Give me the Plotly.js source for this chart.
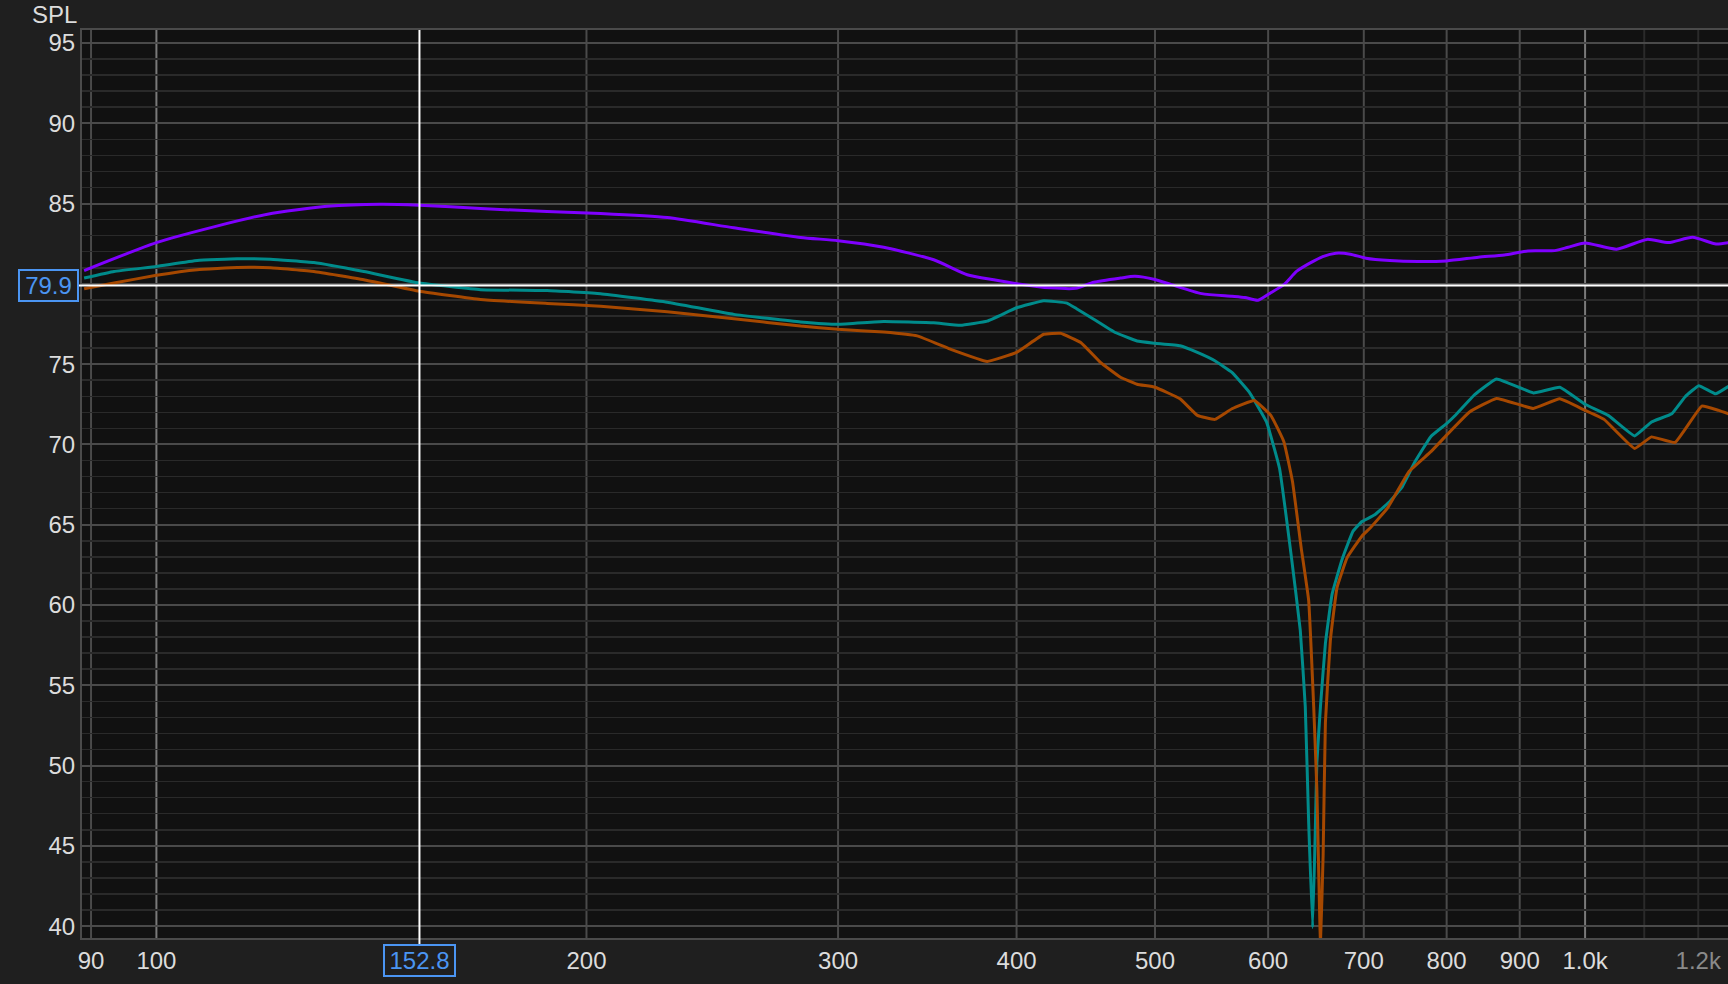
<!DOCTYPE html>
<html>
<head>
<meta charset="utf-8">
<script src="https://cdn.plot.ly/plotly-3.0.1.min.js"></script>
<style>
html,body{margin:0;padding:0;background:#1f1f1f;overflow:hidden;}
#chart{width:1728px;height:984px;}
</style>
</head>
<body>
<div id="chart"></div>
<script>
// ---- data (frequency in Hz, SPL in dB) ----
const freqPurple = [89.0,100,109.7,119.6,131.7,143.5,152.8,168.6,187.7,204.6,227.8,253.6,282.4,300,322.9,350,369.4,385.6,400,422.5,440,453,472.9,484,500,513.4,539,566,578,590.2,602.6,615.4,628.4,641.7,655.2,669.2,685,702.4,730,763.6,800,842,878,912,952,973,1000,1052,1105,1144,1189,1235,1260];
const splPurple  = [80.83,82.57,83.55,84.34,84.83,84.96,84.90,84.69,84.50,84.38,84.13,83.49,82.89,82.69,82.28,81.50,80.57,80.25,80.01,79.75,79.72,80.10,80.36,80.47,80.27,79.95,79.39,79.23,79.15,78.98,79.45,79.95,80.79,81.29,81.70,81.91,81.85,81.60,81.45,81.39,81.43,81.66,81.80,82.05,82.07,82.28,82.55,82.16,82.77,82.57,82.90,82.48,82.57];

const freqTeal = [89.0,93.4,100,106.8,113.9,120.2,128.9,139.7,152.8,168.6,187.7,204.6,227.8,253.6,282.4,300,322.9,350,365.4,381.5,400,417.9,433.9,440.6,453,469,485.7,500,520.6,535.3,550.6,566,582,598.4,611.1,623,631.9,637,640.5,644.6,647.4,649,652.8,658,665.2,676,688,698,712,729,744,760,780,800,811,837,867,920,960,1000,1038,1083,1113,1150,1175,1201,1234,1260];
const splTeal  = [80.36,80.77,81.08,81.45,81.56,81.54,81.33,80.77,80.05,79.64,79.58,79.39,78.86,78.10,77.63,77.48,77.66,77.58,77.42,77.68,78.51,78.95,78.80,78.45,77.80,76.97,76.44,76.30,76.14,75.73,75.21,74.49,73.26,71.40,68.52,62.95,58.42,53.68,46.47,39.90,46.0,50.17,53.68,57.60,60.69,62.85,64.60,65.20,65.60,66.40,67.30,68.90,70.50,71.30,71.80,73.10,74.08,73.21,73.56,72.50,71.81,70.53,71.40,71.91,72.97,73.66,73.15,73.62];

const freqOrange = [89.0,93.4,100,106.8,113.9,120.2,128.9,139.7,152.8,168.6,187.7,204.6,227.8,253.6,282.4,300,322.9,340.8,359.6,381.5,400,417.9,429.4,443.6,457.9,472.9,485.7,500,520.6,535.3,550.6,566,586.7,602.6,615.4,624,632.8,640.5,645.7,649,652.8,655.6,658,663.3,670.5,681.5,698,707.5,727.5,753,780,800,830,867,920,960,1000,1031,1083,1113,1156,1207,1240,1260];
const splOrange  = [79.70,80.05,80.53,80.88,81.02,81.00,80.77,80.26,79.54,79.02,78.78,78.61,78.26,77.83,77.37,77.17,77.00,76.76,75.93,75.17,75.73,76.86,76.92,76.35,75.11,74.18,73.75,73.56,72.84,71.81,71.56,72.22,72.74,71.81,70.17,67.69,63.57,60.28,53.68,48.53,39.0,44.43,52.65,57.80,61.10,62.95,64.30,64.81,66.05,68.32,69.55,70.58,72.02,72.86,72.24,72.84,72.12,71.56,69.75,70.47,70.12,72.39,72.12,71.91];

// cursor readout
const cursorFreq = 152.8;
const cursorSPL = 79.9;

// axes
const xRange = [88.7, 1259];
const yRange = [39.26, 95.81];
const yTickVals = [40,45,50,55,60,65,70,75,80,85,90,95];
const yTickText = ['40','45','50','55','60','65','70','75','','85','90','95'];
const xLabelVals = [90,100,200,300,400,500,600,700,800,900,1000,1200];
const xLabelText = ['90','100','200','300','400','500','600','700','800','900','1.0k','<span style="color:#8a8a8a">1.2k</span>'];
const xGridMid = [90,200,300,400,500,600,700,800,900];
const xGridDecade = [100,1000];
const xGridMinor = [1100,1200];

// ---- styles ----
const FONT = 'Liberation Sans, Arial, Helvetica, sans-serif';
const BLUE = '#4b95f2';

const traces = [
  {x: freqPurple, y: splPurple, type: 'scatter', mode: 'lines',
   line: {color: '#7f00ff', width: 3, shape: 'spline', smoothing: 0.6}, hoverinfo: 'skip'},
  {x: freqTeal, y: splTeal, type: 'scatter', mode: 'lines',
   line: {color: '#008b8b', width: 3, shape: 'spline', smoothing: 0.3}, hoverinfo: 'skip'},
  {x: freqOrange, y: splOrange, type: 'scatter', mode: 'lines',
   line: {color: '#a64800', width: 3, shape: 'spline', smoothing: 0.3}, hoverinfo: 'skip'}
];

function vlines(vals, color, width) {
  return vals.map(v => ({type: 'line', xref: 'x', yref: 'paper', x0: v, x1: v, y0: 0, y1: 1,
    line: {color: color, width: width}, layer: 'between'}));
}

const shapes = [].concat(
  vlines(xGridMinor, '#2a2a2a', 2),
  vlines(xGridMid, '#4a4a4a', 2),
  vlines(xGridDecade, '#7a7a7a', 2),
  [
    {type: 'line', xref: 'paper', yref: 'y', x0: -0.003, x1: 1, y0: cursorSPL, y1: cursorSPL,
     line: {color: '#ffffff', width: 2}, layer: 'above'},
    {type: 'line', xref: 'x', yref: 'paper', x0: cursorFreq, x1: cursorFreq, y0: -0.007, y1: 1,
     line: {color: '#ffffff', width: 2}, layer: 'above'}
  ]
);

const annotations = [
  {text: 'SPL', xref: 'paper', yref: 'paper', x: 0, y: 1, xanchor: 'right', yanchor: 'middle',
   xshift: -3, yshift: 16, showarrow: false, font: {family: FONT, size: 24, color: '#dcdcdc'}},
  {text: String(cursorSPL), xref: 'paper', yref: 'y', x: 0, y: cursorSPL, xanchor: 'right', yanchor: 'middle',
   xshift: -3, showarrow: false, width: 57, height: 29, borderpad: 0, borderwidth: 2,
   bordercolor: BLUE, bgcolor: '#1f1f1f', font: {family: FONT, size: 24, color: BLUE}},
  {text: String(cursorFreq), xref: 'x', yref: 'paper', x: Math.log10(cursorFreq), y: 0, xanchor: 'center', yanchor: 'top',
   yshift: -5.6, showarrow: false, width: 69, height: 29, borderpad: 0, borderwidth: 2,
   bordercolor: BLUE, bgcolor: '#1f1f1f', font: {family: FONT, size: 24, color: BLUE}}
];

const layout = {
  width: 1728, height: 984,
  paper_bgcolor: '#1f1f1f', plot_bgcolor: '#111111',
  margin: {l: 82, r: 0, t: 30, b: 46, pad: 0},
  showlegend: false,
  font: {family: FONT, size: 24, color: '#dcdcdc'},
  xaxis: {
    type: 'log', range: [Math.log10(xRange[0]), Math.log10(xRange[1])],
    tickmode: 'array', tickvals: xLabelVals, ticktext: xLabelText,
    showgrid: false, zeroline: false, ticks: '',
    showline: true, linecolor: '#4a4a4a', linewidth: 2, mirror: true,
    tickfont: {family: FONT, size: 24, color: '#dcdcdc'}
  },
  yaxis: {
    range: yRange, tickmode: 'array', tickvals: yTickVals, ticktext: yTickText,
    showgrid: true, gridcolor: '#4a4a4a', gridwidth: 2,
    minor: {dtick: 1, showgrid: true, gridcolor: '#2a2a2a', gridwidth: 1.5, ticks: ''},
    zeroline: false, ticks: '',
    showline: true, linecolor: '#4a4a4a', linewidth: 2,
    tickfont: {family: FONT, size: 24, color: '#dcdcdc'}
  },
  shapes: shapes,
  annotations: annotations
};

Plotly.newPlot('chart', traces, layout, {displayModeBar: false, staticPlot: true});
</script>
</body>
</html>
